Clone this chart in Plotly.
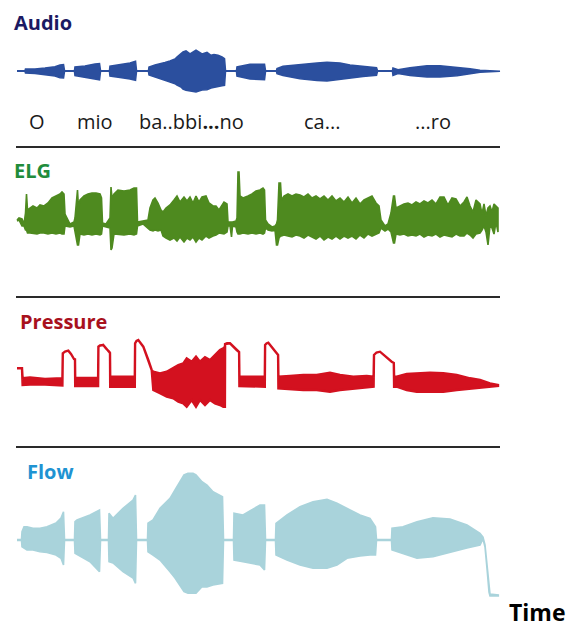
import plotly.graph_objects as go

# ---------------- data (time in arbitrary units, amplitude in arbitrary units) -------------
audio_t  = [17, 25, 25.5, 35, 45, 55, 60, 63.5, 64.5, 74.5, 75, 85, 95, 99.5, 100.5, 109.5, 110, 120, 130, 135.5, 136.5,
            148.5, 149, 155, 160, 165, 170, 175, 177, 181, 183, 186, 190, 196, 202, 207, 211, 214, 218, 222, 224.5, 225.5,
            236.5, 237, 250, 264.5, 265.5, 276.5, 277, 283, 300, 317, 327, 340, 350, 363, 376.5, 377.5,
            392.5, 393, 398, 410, 427, 440, 457, 470, 480, 500]
audio_hi = [0.3, 0.3, 2, 2, 3, 4.3, 6, 6.3, 0.3, 0.3, 4, 5, 7, 7.3, 0.3, 0.3, 4.7, 6, 8, 9.7, 0.3,
            0.3, 4, 6, 7, 8.5, 10, 12, 14, 17, 19, 20, 17, 20.7, 17, 18.5, 15.7, 16.5, 15.7, 14, 12.3, 0.3,
            0.3, 4, 6.7, 6.7, 0.3, 0.3, 2.3, 4.7, 6.7, 8, 8.7, 8, 6, 4.7, 3.3, 0.3,
            0.3, 3, 1.3, 3.3, 5.3, 5.3, 4, 2.3, 0.7, 0.3]
audio_lo = [-0.3, -0.3, -2, -2.5, -3.5, -5, -6.7, -7, -0.3, -0.3, -4.5, -6, -8, -8.7, -0.3, -0.3, -5, -6.5, -8, -9.3, -0.3,
            -0.3, -4, -6.5, -7.7, -9.5, -11, -12.7, -14, -16, -18, -19.3, -20, -21, -19, -18.7, -17, -16, -15.5, -14.7, -14.3, -0.3,
            -0.3, -5, -8, -8.7, -0.3, -0.3, -2.7, -4.5, -7.7, -9.5, -10, -8.7, -7, -5.5, -4.3, -0.3,
            -0.3, -4.3, -2.5, -4.5, -6, -6, -4.7, -3, -1.3, -0.3]

elg_t  = [17, 19, 22, 24, 25.5, 26.5, 27.5, 30, 33, 37, 40, 44, 48, 52, 56, 60, 62, 64, 65, 70, 74,
          75, 77.5, 78.5, 80, 84, 88, 92, 96, 100, 101.5, 102.5, 106,
          110, 111, 112, 114, 118, 124, 130, 134, 136.5, 137.5, 143,
          148, 150, 153, 155, 158, 161, 163, 166, 170, 174, 177, 180, 184, 187, 190, 193, 196, 199, 202, 206, 209, 213,
          216, 219, 224, 227, 228, 230, 231.5, 232.5, 236,
          237, 238, 239, 240, 243, 248, 252, 256, 260, 263, 264.5, 265.5, 268, 272, 275, 276.5, 277.5,
          279, 280.5, 281.5, 284, 288, 292, 296, 300, 304, 308, 312, 316, 320, 324, 328, 332, 336, 340, 344, 348, 352,
          356, 360, 364, 368, 372, 376, 379, 381, 385, 388,
          391, 393.5, 394.5, 396, 400, 404, 408, 412, 416, 420, 424, 428, 432, 436, 440, 444, 448, 452, 456, 460, 464,
          467, 470, 473, 476, 480, 482, 484, 486, 488, 490, 492, 494, 496, 498]
elg_hi = [-2, 0, -1, -6, 5, 24, 8, 10, 12, 10, 13, 12, 15, 20, 22, 24, 26, 24, 4, -6, -4,
          0, 28, 10, 18, 22, 24, 25, 25, 24, 20, -5, -6,
          0, 31, 20, 24, 28, 27, 28, 30, 30, -4, -3,
          -2, 10, 18, 20, 15, 8, 6, 10, 13, 18, 22, 16, 21, 17, 21, 15, 22, 16, 21, 22, 15, 12,
          12, 8, 16, 14, -4, -4, -4, -4, -3,
          0, 46, 46, 22, 20, 22, 24, 27, 28, 30, 28, -2, -6, -9, -8, -6, -2,
          35, 35, 18, 22, 24, 22, 24, 23, 21, 24, 20, 22, 19, 22, 18, 22, 17, 20, 16, 21, 15,
          20, 14, 18, 20, 22, 15, 12, -2, -8, -6,
          5, 22, 22, 10, 12, 14, 15, 13, 16, 14, 17, 15, 18, 14, 21, 21, 13, 20, 19, 12, 16,
          21, 12, 6, 18, 14, 4, 14, 2, 10, 12, 6, 14, 12, 10]
elg_lo = [-3, -2, -8, -8, -12, -12, -15, -15, -15, -16, -15, -15, -16, -15, -16, -15, -16, -16, -8, -9, -8,
          -10, -27, -27, -16, -17, -16, -17, -16, -17, -16, -8, -9,
          -10, -32, -30, -16, -16, -17, -16, -17, -16, -8, -6,
          -10, -12, -13, -12, -13, -12, -18, -20, -22, -20, -23, -19, -24, -20, -22, -19, -24, -20, -22, -18, -20, -18,
          -17, -15, -16, -14, -8, -8, -19, -8, -9,
          -14, -16, -16, -16, -15, -16, -15, -16, -15, -16, -15, -10, -12, -13, -12, -27, -27,
          -20, -18, -18, -17, -18, -19, -17, -18, -20, -17, -19, -21, -18, -22, -19, -21, -18, -21, -18, -20, -18,
          -21, -17, -20, -16, -18, -16, -15, -10, -13, -11,
          -14, -25, -25, -16, -17, -16, -18, -17, -18, -16, -19, -17, -18, -16, -19, -17, -18, -19, -16, -18, -18,
          -15, -17, -20, -16, -15, -12, -8, -14, -27, -8, -10, -16, -4, -14]

pres_t  = [17, 22, 22.6, 30, 45, 62.4, 62.8, 65, 68.3, 71, 74, 75, 75.2, 86, 98.1, 98.4, 100, 103.3, 106, 109.3, 110, 110.2,
           122, 134.8, 135.1, 136.5, 138.3, 143.3, 148.3, 151.7, 153.3, 160, 166.7, 173.3, 178.3, 183.3, 186.7, 191.7, 196,
           200, 205, 210, 215, 220, 223.3, 224.9, 225.1, 227, 230, 236.7, 239.1, 239.4, 252, 264.8, 265.1, 266.5, 268.3,
           276.7, 278.1, 278.4, 280, 290, 303.3, 316.7, 330, 340, 353.3, 366.7, 373.6, 374, 376.5, 380, 391.7, 393.8, 394.1,
           396.7, 406.7, 416.7, 430, 443.3, 456.7, 470, 480, 490, 498]
pres_hi = [12.7, 12.7, 2.7, 3.5, 2, 2.7, 27.7, 29.5, 30.3, 27, 22, 21.7, 3, 3, 3, 34.3, 35.5, 36, 32.5, 29.3, 28, 4.3,
           4.3, 4.3, 37.7, 40, 41, 34.3, 21, 11, 9.3, 7.7, 9.3, 12.7, 16, 17.7, 22.7, 19.3, 24.3,
           19.3, 23.7, 21, 26, 31, 32.7, 34, 37, 37.7, 37.7, 31, 29, 4.3, 4.3, 4.3, 36, 37.5, 38.3,
           27.7, 26, 4.3, 4.3, 5, 6, 6, 8.3, 6, 4.3, 5, 4.3, 26, 28.5, 29.3, 19.3, 18, 4.3,
           4.3, 7, 7.7, 8.3, 7.7, 6, 2.7, 1, -2.3, -4]
pres_lo = [12.7, 12.7, -4, -3.5, -3.5, -4.5, 27.7, 29.5, 30.3, 27, 22, 21.7, -5, -5, -5, 34.3, 35.5, 36, 32.5, 29.3, 28, -5.7,
           -5.7, -5.7, 37.7, 40, 41, 34.3, 21, 11, -9, -12.3, -15.7, -17.3, -20.7, -22.3, -25.7, -19, -25.7,
           -19, -24, -19, -22.3, -24, -25.7, -25.7, 37, 37.7, 37.7, 31, 29, -5, -5.7, -5.7, 36, 37.5, 38.3,
           27.7, 26, -7.3, -7.3, -8.3, -9, -9, -10.7, -9, -7.3, -6.3, -5.7, 26, 28.5, 29.3, 19.3, 18, -5.7,
           -5.7, -9, -10.7, -11, -10.7, -9, -7.3, -6.3, -5.7, -5]

flow_t  = [17, 21.5, 22, 24, 27, 33, 40, 47, 56, 61, 63.5, 64.5, 74.5, 75, 77, 90, 99.5, 100.5, 108.5, 109, 113, 123, 133, 135.5,
           136.5, 147.5, 148, 153, 160, 170, 175, 180, 184, 188, 193, 196, 202, 207, 213, 222.5, 223.5, 233.5, 234,
           243, 260, 264.5, 265.5, 275.5, 276, 287, 300, 313, 327, 337, 347, 360, 370, 375.5, 376.5,
           391.5, 392, 403, 417, 433, 450, 467, 480, 483, 485, 487.3, 489, 490, 498.3]
flow_hi = [0.5, 0.5, 8.3, 13.3, 13.3, 11.7, 11.7, 13.3, 17, 22, 28.3, 0.5, 0.5, 18.3, 20, 25, 30, 0.5, 0.5, 26.7, 21.7, 31.7, 40, 45,
           0.5, 0.5, 16.7, 20, 31.7, 41.7, 50, 58, 65, 66.7, 66.7, 65, 58.3, 55, 48.3, 43.3, 0.5, 0.5, 26.7,
           25, 35, 35, 0.5, 0.5, 16.7, 25, 33.3, 38.3, 40.7, 36.7, 31.7, 25, 21.7, 13.3, 0.5,
           0.5, 11.7, 13.3, 18.3, 22.3, 21, 15, 6.7, 3, -5, -30, -50, -54, -55]
flow_lo = [-0.5, -0.5, -6.7, -8, -10, -10, -11.7, -12.5, -15, -18.3, -25, -0.5, -0.5, -13.3, -15, -21.7, -31.7, -0.5, -0.5, -21.7, -23, -31.7, -38, -43.3,
           -0.5, -0.5, -11.7, -15, -20, -31.7, -38, -45, -51.7, -53.3, -53.3, -53.3, -46.7, -47, -45, -43.3, -0.5, -0.5, -20,
           -21.7, -25, -30, -0.5, -0.5, -15, -20, -25, -28.3, -28.3, -25, -18.3, -16, -15, -15, -0.5,
           -0.5, -10, -13.3, -18.3, -16.7, -12.3, -8, -5, 1, -7, -32, -52, -56, -56]

syllables   = ["O", "mio", "ba..bbi<b>...</b>no", "ca...", "...ro"]
syllable_t  = [37, 95, 191, 322, 433]

panel_names   = ["Audio", "ELG", "Pressure", "Flow"]
panel_colors  = ["#2b4f9e", "#4e8a1f", "#d3111f", "#a9d3db"]
title_colors  = ["#1b1a62", "#218c3b", "#a8111d", "#1f93d2"]

# ---------------- layout geometry (pixels) ----------------
W, H = 574, 630
baselines = [71, 218, 381, 540]     # pixel row of each panel's zero
title_y   = [23, 171, 321, 471]
title_x   = [12, 12, 18, 25]
sep_y     = [147, 297, 447]

fig = go.Figure()
series = [(audio_t, audio_hi, audio_lo, 1.6),
          (elg_t, elg_hi, elg_lo, 1.6),
          (pres_t, pres_hi, pres_lo, 2.4),
          (flow_t, flow_hi, flow_lo, 1.6)]
for i, (t, hi, lo, lw) in enumerate(series):
    yname = "y" if i == 0 else f"y{i+1}"
    fig.add_trace(go.Scatter(
        x=list(t) + list(t)[::-1],
        y=list(hi) + list(lo)[::-1],
        mode="lines", fill="toself",
        fillcolor=panel_colors[i],
        line=dict(color=panel_colors[i], width=lw),
        yaxis=yname, hoverinfo="skip", showlegend=False))

layout = dict(
    width=W, height=H, autosize=False,
    margin=dict(l=0, r=0, t=0, b=0, pad=0),
    paper_bgcolor="white", plot_bgcolor="white",
    showlegend=False,
    xaxis=dict(range=[0, W], visible=False, fixedrange=True, domain=[0, 1]),
)
for i, b in enumerate(baselines):
    key = "yaxis" if i == 0 else f"yaxis{i+1}"
    ax = dict(range=[b - H, b], visible=False, fixedrange=True, domain=[0, 1])
    if i > 0:
        ax["overlaying"] = "y"
    layout[key] = ax
fig.update_layout(**layout)

shapes = []
for sy in sep_y:
    shapes.append(dict(type="line", xref="paper", yref="paper",
                       x0=16 / W, x1=500 / W, y0=1 - sy / H, y1=1 - sy / H,
                       line=dict(color="#2a2a2a", width=2.2)))
fig.update_layout(shapes=shapes)

annotations = []
for name, col, tx, ty in zip(panel_names, title_colors, title_x, title_y):
    annotations.append(dict(text=f"<b>{name}</b>", xref="paper", yref="paper",
                            x=tx / W, y=1 - ty / H, xanchor="left", yanchor="middle",
                            showarrow=False, font=dict(family="Open Sans", size=20, color=col)))
for s, st in zip(syllables, syllable_t):
    annotations.append(dict(text=s, xref="x", yref="paper", x=st, y=1 - 122 / H,
                            xanchor="center", yanchor="middle", showarrow=False,
                            font=dict(family="Open Sans", size=20, color="#1a1a1a")))
annotations.append(dict(text="<b>Time</b>", xref="paper", yref="paper", x=568 / W, y=1 - 612 / H,
                        xanchor="right", yanchor="middle", showarrow=False,
                        font=dict(family="Open Sans", size=23, color="#000000")))
fig.update_layout(annotations=annotations)

fig.write_html("out.html")
